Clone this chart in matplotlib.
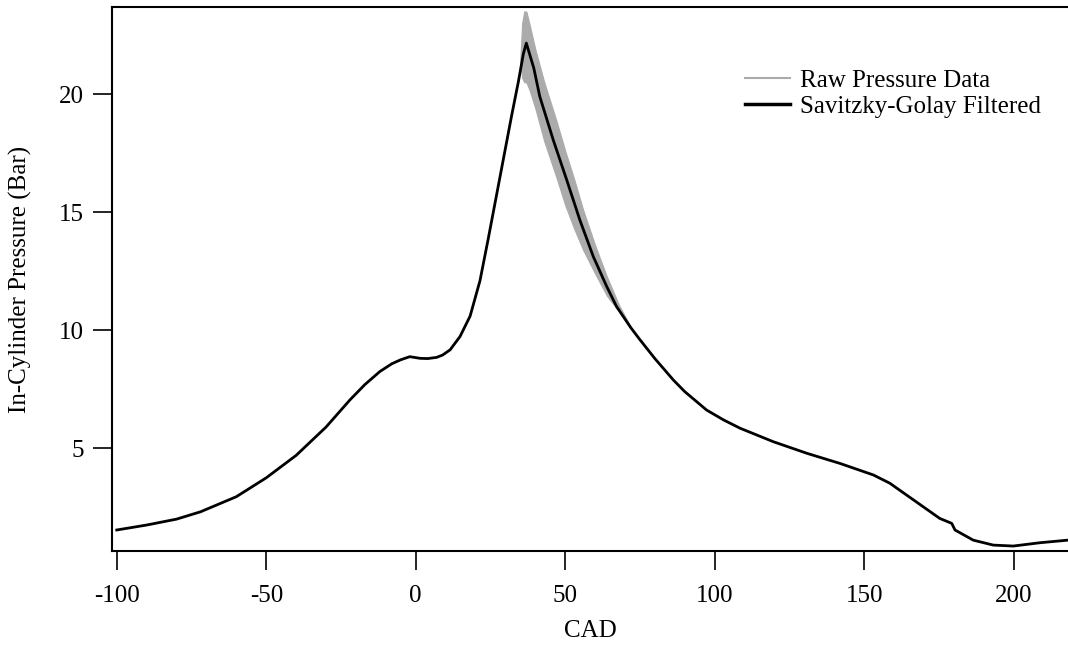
import numpy as np
import matplotlib
matplotlib.use("Agg")
import matplotlib.pyplot as plt
from matplotlib.lines import Line2D

plt.rcParams['font.family'] = ['Liberation Serif', 'DejaVu Serif']
plt.rcParams['axes.unicode_minus'] = False

# Savitzky-Golay filtered pressure trace
cad = [-100, -90, -80, -72, -60, -50, -40, -30, -22, -17, -12, -8, -5, -2, 1.5,
       4, 7, 9, 11.5, 14.8, 18.2, 21.5, 24.3, 28.8, 32.1, 34.3, 36, 37, 39.5,
       41.5, 46, 50.5, 54.9, 59.4, 63.9, 67.2, 72, 75, 80, 86.2, 90, 97.3, 103,
       108.5, 119.6, 130.8, 141.9, 153.1, 158.6, 164.2, 175.3, 179.3, 180.4,
       186.5, 193.2, 199.9, 208.8, 218.2]
p_filt = [1.54, 1.75, 2.0, 2.31, 2.95, 3.75, 4.7, 5.9, 7.05, 7.7, 8.25, 8.58,
          8.75, 8.88, 8.81, 8.8, 8.85, 8.95, 9.17, 9.73, 10.6, 12.1, 13.9, 16.9,
          19.1, 20.5, 21.7, 22.16, 21.1, 19.9, 18.06, 16.37, 14.67, 13.12, 11.85,
          11.0, 10.1, 9.6, 8.8, 7.89, 7.4, 6.62, 6.2, 5.85, 5.28, 4.79, 4.36,
          3.87, 3.52, 3.02, 2.03, 1.82, 1.54, 1.11, 0.90, 0.86, 1.0, 1.11]

# raw data spread (noise band around the peak)
raw_cad = [35.0, 35.6, 36.3, 37, 38, 40, 43, 47, 50, 53, 56, 60, 64, 68, 72]
raw_hi = [21.5, 23.0, 23.5, 23.5, 23.0, 21.9, 20.5, 18.9, 17.6, 16.4, 15.1,
          13.6, 12.25, 11.07, 10.12]
raw_lo = [21.3, 20.7, 20.5, 20.5, 20.2, 19.4, 18.0, 16.5, 15.3, 14.3, 13.4,
          12.4, 11.45, 10.8, 10.08]

xticks = [-100, -50, 0, 50, 100, 150, 200]
yticks = [5, 10, 15, 20]

fig = plt.figure(figsize=(10.68, 6.46), dpi=100)
ax = fig.add_axes([112 / 1068, 1 - 551 / 646, 956 / 1068, 544 / 646])

gray = '#ababab'
ax.fill_between(raw_cad, raw_lo, raw_hi, color=gray, lw=0.8, edgecolor=gray)
ax.plot(cad, p_filt, color='black', lw=2.0, solid_joinstyle='round')

ax.set_xlim(-101.6, 218.2)
ax.set_ylim(0.65, 23.69)
ax.set_xticks(xticks)
ax.set_yticks(yticks)

for s in ['left', 'top', 'bottom']:
    ax.spines[s].set_linewidth(1.5)
ax.spines['right'].set_visible(False)
ax.tick_params(direction='out', length=13.5, width=1.2, labelsize=18)
ax.tick_params(axis='x', pad=11)
ax.tick_params(axis='y', pad=7)

ax.set_xlabel('CAD', fontsize=18, labelpad=9)
ax.set_ylabel('In-Cylinder Pressure (Bar)', fontsize=18, labelpad=19)

handles = [Line2D([], [], color=gray, lw=1.5), Line2D([], [], color='black', lw=2.5)]
ax.legend(handles, ['Raw Pressure Data', 'Savitzky-Golay Filtered'],
          loc='upper left', bbox_to_anchor=(0.662, 0.885), frameon=False,
          fontsize=18, handlelength=1.8, handletextpad=0.4, labelspacing=0.12,
          borderpad=0, borderaxespad=0)

fig.savefig('out.png', dpi=100)
